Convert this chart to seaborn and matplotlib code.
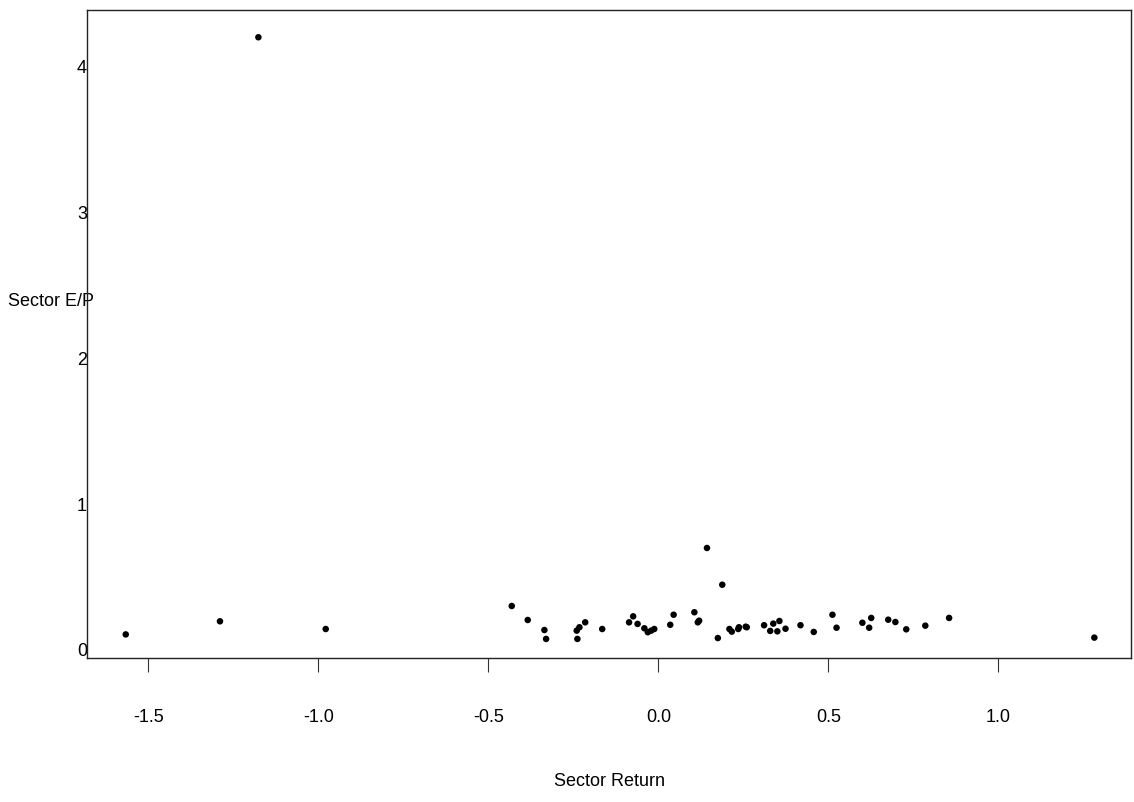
import matplotlib
matplotlib.use("Agg")
import matplotlib.pyplot as plt
import seaborn as sns
import pandas as pd

# Sector return vs sector E/P
sector_return = [
    -1.566, -1.289, -1.176, -0.978,
    -0.431, -0.384, -0.335, -0.330, -0.240, -0.232, -0.238, -0.215,
    -0.165, -0.086, -0.074, -0.061, -0.041, -0.031, -0.021, -0.012,
    0.035, 0.045, 0.106, 0.116, 0.120, 0.143, 0.188, 0.175,
    0.209, 0.216, 0.235, 0.237, 0.257, 0.260,
    0.311, 0.329, 0.338, 0.350, 0.356, 0.374, 0.418, 0.457,
    0.512, 0.524, 0.600, 0.620, 0.626, 0.676, 0.697, 0.729,
    0.785, 0.855, 1.282,
]
sector_ep = [
    0.100, 0.190, 4.197, 0.137,
    0.295, 0.199, 0.130, 0.069, 0.126, 0.149, 0.069, 0.183,
    0.137, 0.183, 0.224, 0.172, 0.142, 0.115, 0.126, 0.137,
    0.166, 0.235, 0.252, 0.183, 0.194, 0.693, 0.441, 0.075,
    0.137, 0.119, 0.137, 0.149, 0.153, 0.149,
    0.163, 0.124, 0.174, 0.121, 0.192, 0.139, 0.163, 0.117,
    0.235, 0.146, 0.180, 0.146, 0.213, 0.201, 0.185, 0.135,
    0.160, 0.213, 0.078,
]
x_ticks = [-1.5, -1.0, -0.5, 0.0, 0.5, 1.0]
x_tick_labels = ["-1.5", "-1.0", "-0.5", "0.0", "0.5", "1.0"]
y_ticks = [0, 1, 2, 3, 4]
y_tick_labels = ["0", "1", "2", "3", "4"]

df = pd.DataFrame({"ret": sector_return, "ep": sector_ep})

sns.set_style("white")
plt.rcParams["font.family"] = ["Liberation Sans", "DejaVu Sans"]
plt.rcParams["text.color"] = "black"
plt.rcParams["axes.labelcolor"] = "black"
plt.rcParams["xtick.color"] = "black"
plt.rcParams["ytick.color"] = "black"

fig = plt.figure(figsize=(11.34, 8.03), dpi=100)
ax = fig.add_axes([0.0767, 0.1793, 0.9207, 0.807])

sns.scatterplot(data=df, x="ret", y="ep", ax=ax, color="black",
                s=22, edgecolor="none", linewidth=0)

ax.set_xlim(-1.680, 1.390)
ax.set_ylim(-0.062, 4.384)

ax.set_xticks(x_ticks)
ax.set_xticklabels(x_tick_labels, fontsize=13)
ax.set_yticks(y_ticks)
ax.set_yticklabels(y_tick_labels, fontsize=13)

ax.tick_params(axis="x", direction="out", length=10, width=0.8,
               color="#333333", pad=26, bottom=True)
ax.tick_params(axis="y", length=0, pad=0)

for spine in ax.spines.values():
    spine.set_visible(True)
    spine.set_color("#222222")
    spine.set_linewidth(1.0)

ax.set_xlabel("Sector Return", fontsize=13, labelpad=34)
ax.set_ylabel("Sector E/P", fontsize=13, rotation=0, ha="left", va="center")
ax.yaxis.set_label_coords(-0.0757, 0.551)

fig.savefig("out.png", dpi=100)
